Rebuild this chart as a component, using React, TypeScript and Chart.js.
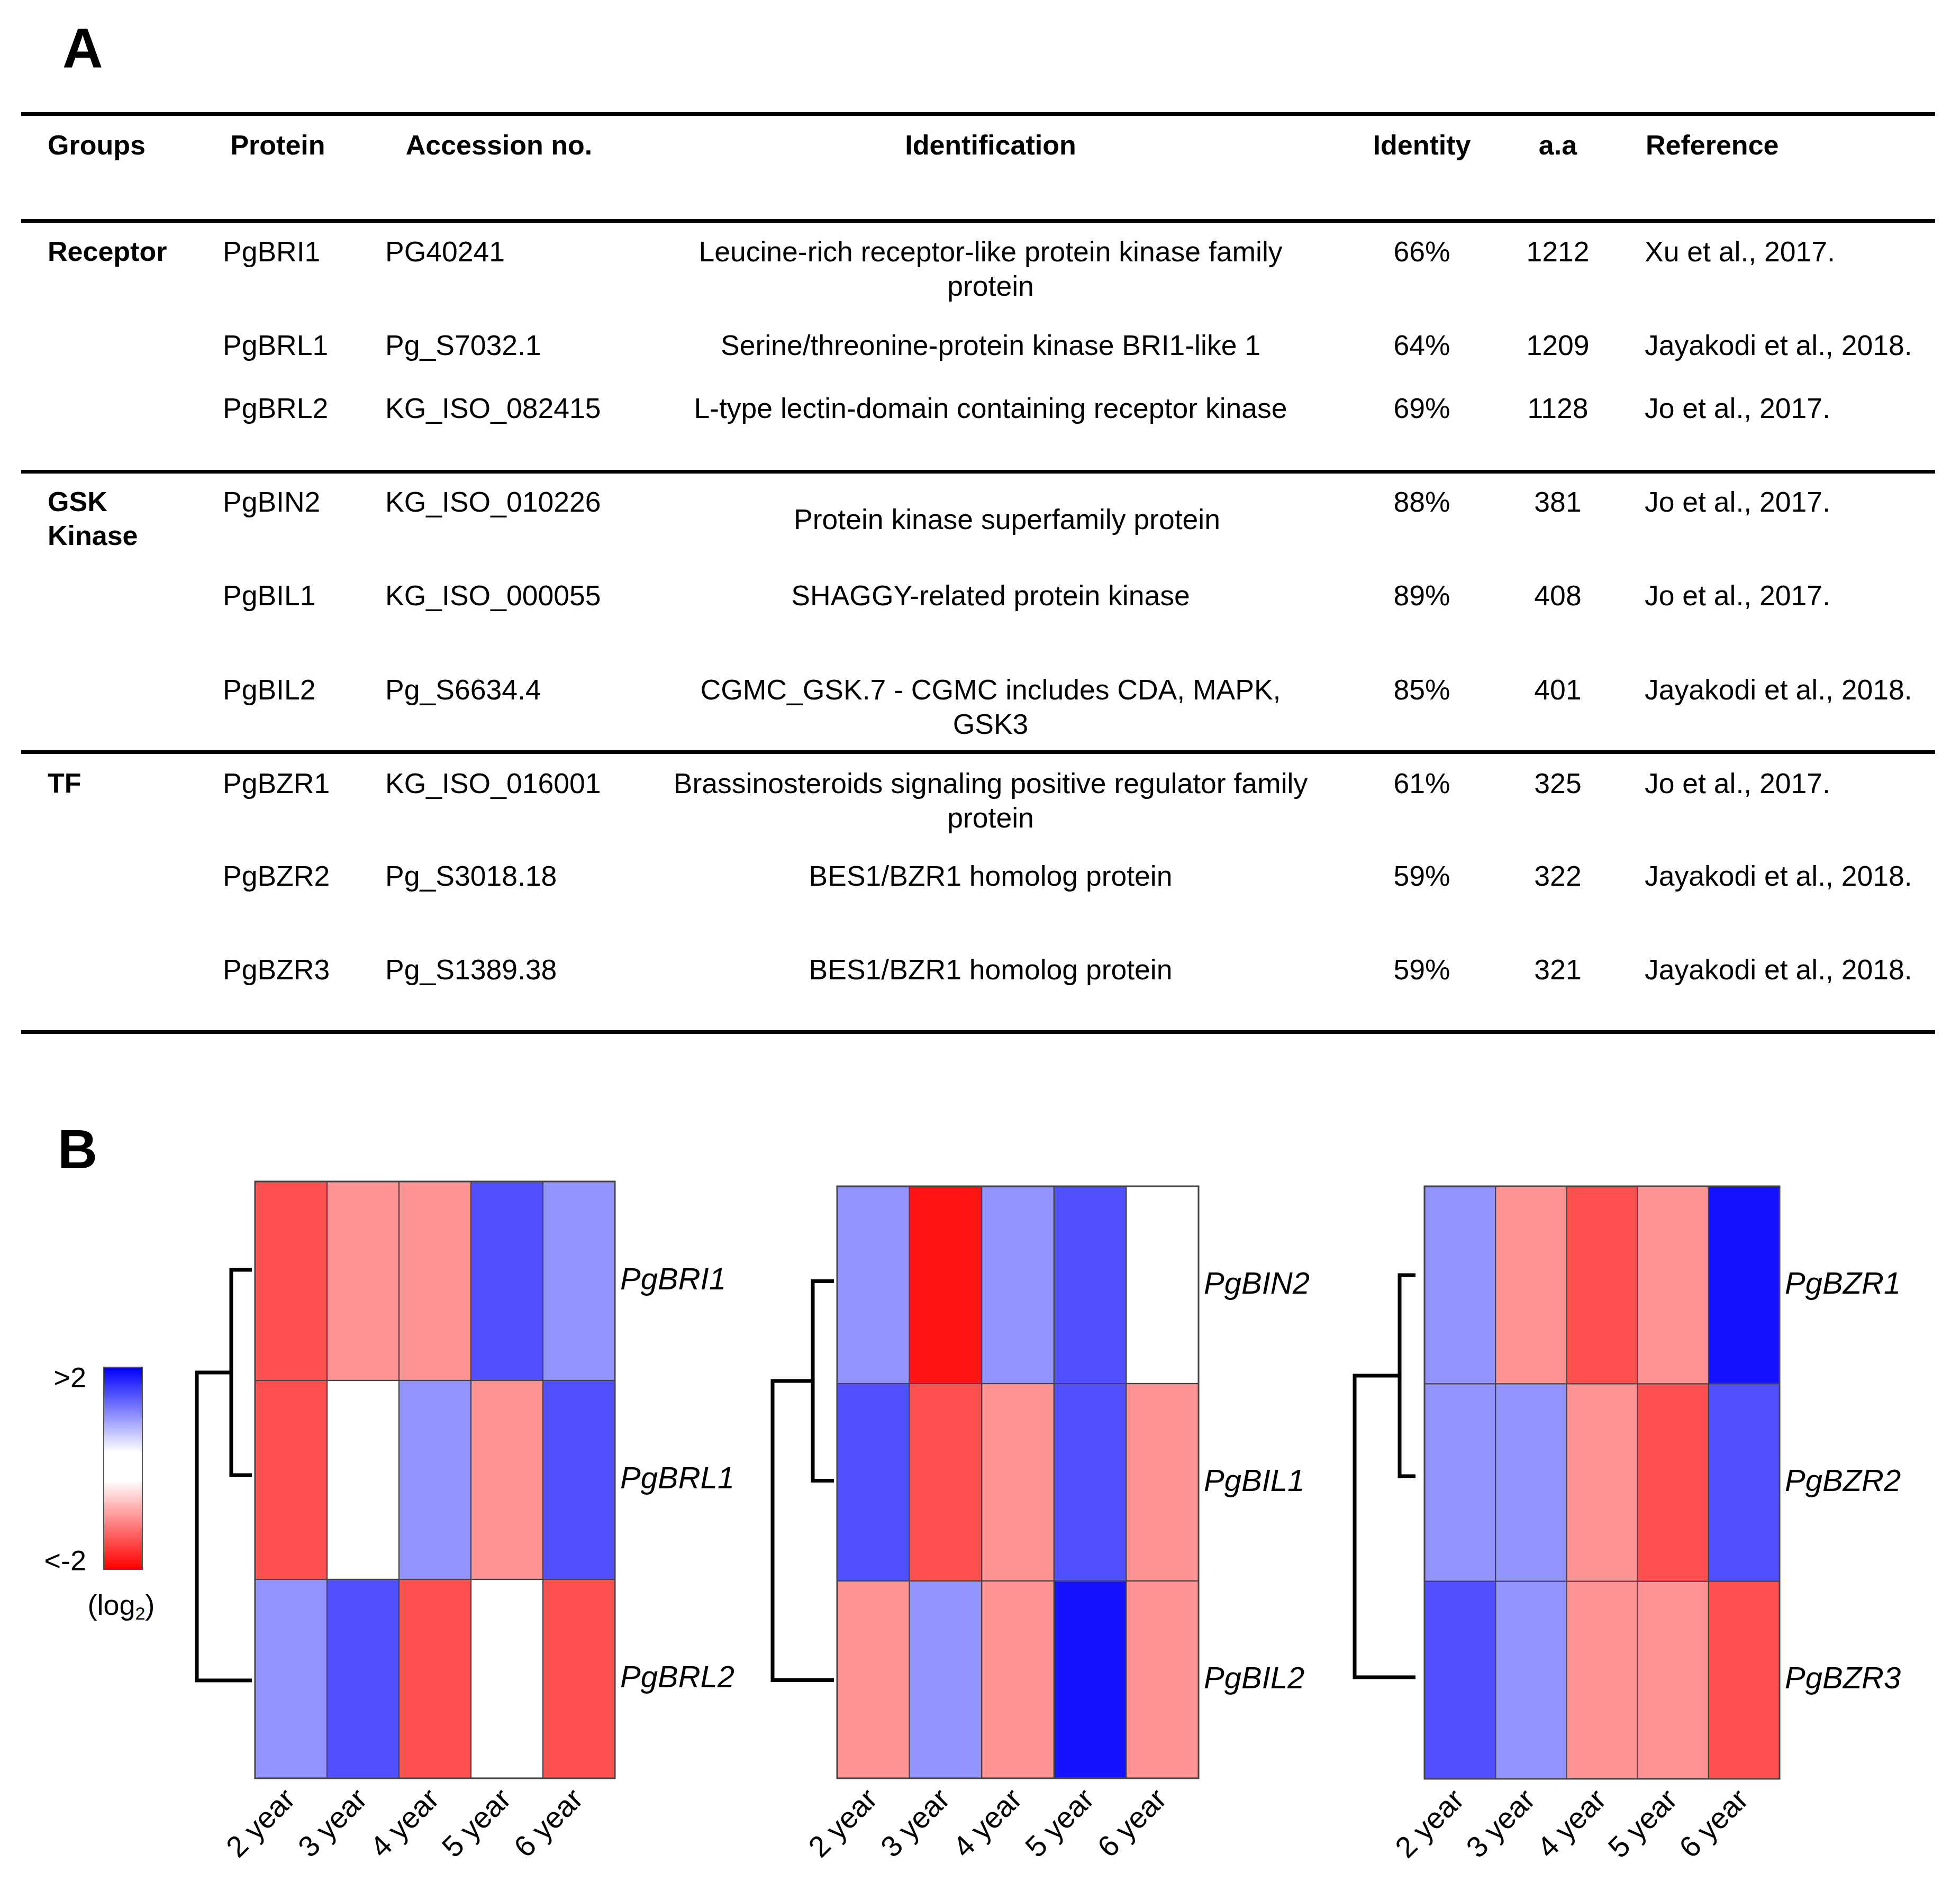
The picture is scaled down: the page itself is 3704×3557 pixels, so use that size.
import React, { useEffect, useRef } from 'react';
import { Chart, registerables } from 'chart.js';

Chart.register(...registerables);

const FONT = '"Liberation Sans", Arial, Helvetica, sans-serif';

// ---------------- Table (panel A) data ----------------
const tableHeaders = ['Groups', 'Protein', 'Accession no.', 'Identification', 'Identity', 'a.a', 'Reference'];
const groupNames = ['Receptor', 'GSK\nKinase', 'TF'];
const groupFirstRow = [0, 3, 6];
const proteins = ['PgBRI1', 'PgBRL1', 'PgBRL2', 'PgBIN2', 'PgBIL1', 'PgBIL2', 'PgBZR1', 'PgBZR2', 'PgBZR3'];
const accessions = ['PG40241', 'Pg_S7032.1', 'KG_ISO_082415', 'KG_ISO_010226', 'KG_ISO_000055', 'Pg_S6634.4', 'KG_ISO_016001', 'Pg_S3018.18', 'Pg_S1389.38'];
const identifications = [
  'Leucine-rich receptor-like protein kinase family\nprotein',
  'Serine/threonine-protein kinase BRI1-like 1',
  'L-type lectin-domain containing receptor kinase',
  'Protein kinase superfamily protein',
  'SHAGGY-related protein kinase',
  'CGMC_GSK.7 - CGMC includes CDA, MAPK,\nGSK3',
  'Brassinosteroids signaling positive regulator family\nprotein',
  'BES1/BZR1 homolog protein',
  'BES1/BZR1 homolog protein',
];
const identities = ['66%', '64%', '69%', '88%', '89%', '85%', '61%', '59%', '59%'];
const aminoAcids = [1212, 1209, 1128, 381, 408, 401, 325, 322, 321];
const references = [
  'Xu et al., 2017.', 'Jayakodi et al., 2018.', 'Jo et al., 2017.',
  'Jo et al., 2017.', 'Jo et al., 2017.', 'Jayakodi et al., 2018.',
  'Jo et al., 2017.', 'Jayakodi et al., 2018.', 'Jayakodi et al., 2018.',
];

// ---------------- Heatmap (panel B) data ----------------
const years = ['2 year', '3 year', '4 year', '5 year', '6 year'];

const receptorGenes = ['PgBRI1', 'PgBRL1', 'PgBRL2'];
const receptorValues = [
  [-1.37, -0.84, -0.84, 1.37, 0.84],
  [-1.37, 0, 0.84, -0.84, 1.37],
  [0.84, 1.37, -1.37, 0, -1.37],
];
const receptorLinkage = [0.39, 1.04];

const gskGenes = ['PgBIN2', 'PgBIL1', 'PgBIL2'];
const gskValues = [
  [0.84, -1.85, 0.84, 1.37, 0],
  [1.37, -1.37, -0.84, 1.37, -0.84],
  [-0.84, 0.84, -0.84, 1.85, -0.84],
];
const gskLinkage = [0.4, 1.16];

const tfGenes = ['PgBZR1', 'PgBZR2', 'PgBZR3'];
const tfValues = [
  [0.84, -0.84, -1.37, -0.84, 1.85],
  [0.84, 0.84, -0.84, -1.37, 1.37],
  [1.37, 0.84, -0.84, -0.84, -1.37],
];
const tfLinkage = [0.3, 1.15];

const colorScaleMax = 2;
const colorScaleLabels = ['>2', '<-2'];

// ---------------- Layout (positions / sizes) ----------------
const TABLE_FONT = 53.5;
const HEAD_FONT = 52;
const LINE_H = 65;
const RULE_LEFT = 40;
const RULE_RIGHT = 3657;
const RULE_Y = [215, 417, 891, 1421, 1950];
const HEADER_Y = 274;
const HEADER_X = [90, 525, 943, 1872, 2687, 2944, 3110];
const HEADER_ALIGN: ('left' | 'center')[] = ['left', 'center', 'center', 'center', 'center', 'center', 'left'];
const ROW_Y = [475, 652, 771, 948, 1125, 1303, 1480, 1655, 1832];
const COL_X = { group: 90, protein: 421, accession: 728, ident: 1872, identity: 2687, aa: 2944, ref: 3108 };
const IDENT_SHIFT: Record<number, { dx: number; dy: number }> = { 3: { dx: 31, dy: 33 } };

const DENDRO_MAX = 1.3;
const DENDRO_W = 130;
const PANELS = [
  { genes: receptorGenes, values: receptorValues, linkage: receptorLinkage, left: 482, top: 2233, width: 680, height: 1128, dRight: 476, leafTop: 2400, leafStep: 388 },
  { genes: gskGenes, values: gskValues, linkage: gskLinkage, left: 1582, top: 2242, width: 683, height: 1119, dRight: 1576, leafTop: 2421, leafStep: 377 },
  { genes: tfGenes, values: tfValues, linkage: tfLinkage, left: 2692, top: 2242, width: 671, height: 1120, dRight: 2675, leafTop: 2410, leafStep: 380 },
];

function valueColor(v: number): string {
  const t = Math.min(Math.abs(v) / colorScaleMax, 1);
  const c = Math.round(255 * (1 - t));
  return v >= 0 ? `rgb(${c},${c},255)` : `rgb(255,${c},${c})`;
}

const outlinePlugin = {
  id: 'outline',
  afterDatasetsDraw(chart: any) {
    const { ctx, chartArea } = chart;
    ctx.save();
    ctx.strokeStyle = '#444';
    ctx.lineWidth = 3;
    ctx.strokeRect(chartArea.left, chartArea.top, chartArea.right - chartArea.left, chartArea.bottom - chartArea.top);
    ctx.restore();
  },
};

function Heatmap(props: { genes: string[]; values: number[][]; left: number; top: number; width: number; height: number }) {
  const { genes, values, left, top, width, height } = props;
  const ref = useRef<HTMLCanvasElement>(null);
  const PADL = 170, PADT = 70, AXB = 250, AXR = 340;
  const cw = PADL + width + AXR;
  const ch = PADT + height + AXB;
  useEffect(() => {
    const datasets = genes
      .map((g, i) => ({
        label: g,
        data: years.map(() => 1),
        backgroundColor: values[i].map(valueColor),
        borderColor: '#444',
        borderWidth: 1.5,
        borderSkipped: false as any,
        barPercentage: 1,
        categoryPercentage: 1,
      }))
      .reverse();
    const chart = new Chart(ref.current as HTMLCanvasElement, {
      type: 'bar',
      data: { labels: years, datasets },
      options: {
        animation: false,
        responsive: false,
        devicePixelRatio: 1,
        layout: { padding: { left: PADL, top: PADT, right: 0, bottom: 0 } },
        plugins: { legend: { display: false }, tooltip: { enabled: false } },
        scales: {
          x: {
            stacked: true,
            grid: { display: false, drawTicks: false },
            border: { display: false },
            ticks: { minRotation: 45, maxRotation: 45, autoSkip: false, color: '#000', font: { family: FONT, size: 56 }, padding: 8 },
            afterFit: (s: any) => { s.height = AXB; },
          },
          y: { stacked: true, display: false, min: 0, max: genes.length },
          gene: {
            type: 'category',
            labels: genes,
            position: 'right',
            offset: true,
            grid: { display: false, drawTicks: false },
            border: { display: false },
            ticks: { color: '#000', font: { family: FONT, size: 58, style: 'italic' }, padding: 10 },
            afterFit: (s: any) => { s.width = AXR; },
          },
        } as any,
      },
      plugins: [outlinePlugin],
    });
    return () => chart.destroy();
  }, []);
  return (
    <canvas
      ref={ref}
      width={cw}
      height={ch}
      style={{ position: 'absolute', left: left - PADL, top: top - PADT, width: cw, height: ch }}
    />
  );
}

function Dendrogram(props: { linkage: number[]; right: number; leafTop: number; leafStep: number }) {
  const { linkage, right, leafTop, leafStep } = props;
  const ref = useRef<HTMLCanvasElement>(null);
  const PAD = 8;
  const cw = DENDRO_W + 2 * PAD;
  const ch = leafStep * 3 + 2 * PAD;
  useEffect(() => {
    const [h1, h2] = linkage;
    const leaf = [0.5, 1.5, 2.5];
    const mid = (leaf[0] + leaf[1]) / 2;
    const inner = [
      { x: 0, y: leaf[0] }, { x: h1, y: leaf[0] }, { x: h1, y: leaf[1] }, { x: 0, y: leaf[1] },
    ];
    const outer = [
      { x: h1, y: mid }, { x: h2, y: mid }, { x: h2, y: leaf[2] }, { x: 0, y: leaf[2] },
    ];
    const mk = (data: any[]) => ({
      data,
      showLine: true,
      pointRadius: 0,
      borderColor: '#000',
      borderWidth: 7,
      borderJoinStyle: 'miter' as const,
      borderCapStyle: 'butt' as const,
      tension: 0,
      clip: false as any,
    });
    const chart = new Chart(ref.current as HTMLCanvasElement, {
      type: 'scatter',
      data: { datasets: [mk(inner), mk(outer)] },
      options: {
        animation: false,
        responsive: false,
        devicePixelRatio: 1,
        layout: { padding: PAD },
        plugins: { legend: { display: false }, tooltip: { enabled: false } },
        scales: {
          x: { type: 'linear', min: 0, max: DENDRO_MAX, reverse: true, display: false },
          y: { type: 'linear', min: 0, max: 3, reverse: true, display: false },
        },
      },
    });
    return () => chart.destroy();
  }, []);
  return (
    <canvas
      ref={ref}
      width={cw}
      height={ch}
      style={{ position: 'absolute', left: right - DENDRO_W - PAD, top: leafTop - leafStep / 2 - PAD, width: cw, height: ch }}
    />
  );
}

function T(props: { x: number; y: number; align?: 'left' | 'center' | 'right'; bold?: boolean; size?: number; lh?: number; children: React.ReactNode }) {
  const { x, y, align = 'left', bold = false, size = TABLE_FONT, lh = LINE_H, children } = props;
  const style: React.CSSProperties = {
    position: 'absolute',
    top: y - lh / 2,
    fontSize: size,
    lineHeight: `${lh}px`,
    fontWeight: bold ? 'bold' : 'normal',
    whiteSpace: 'pre',
    textAlign: align,
    fontFamily: FONT,
    color: '#000',
  };
  if (align === 'left') style.left = x;
  else if (align === 'center') { style.left = x; style.transform = 'translateX(-50%)'; }
  else { style.right = 3704 - x; }
  return <div style={style}>{children}</div>;
}

export default function App() {
  return (
    <div style={{ position: 'absolute', left: 0, top: 0, width: 3704, height: 3557, background: '#fff', overflow: 'hidden', fontFamily: FONT }}>
      {/* Panel letters */}
      <T x={118} y={91} bold size={106} lh={110}>A</T>
      <T x={109} y={2172} bold size={104} lh={110}>B</T>

      {/* Table rules */}
      {RULE_Y.map((y, i) => (
        <div key={i} style={{ position: 'absolute', left: RULE_LEFT, width: RULE_RIGHT - RULE_LEFT, top: y - 3.5, height: 7, background: '#000' }} />
      ))}

      {/* Header */}
      {tableHeaders.map((h, i) => (
        <T key={h} x={HEADER_X[i]} y={HEADER_Y} align={HEADER_ALIGN[i]} bold size={HEAD_FONT}>{h}</T>
      ))}

      {/* Groups */}
      {groupNames.map((g, i) => (
        <T key={g} x={COL_X.group} y={ROW_Y[groupFirstRow[i]]} bold size={HEAD_FONT} lh={64}>{g}</T>
      ))}

      {/* Rows */}
      {proteins.map((p, i) => {
        const sh = IDENT_SHIFT[i] || { dx: 0, dy: 0 };
        return (
          <React.Fragment key={p}>
            <T x={COL_X.protein} y={ROW_Y[i]}>{p}</T>
            <T x={COL_X.accession} y={ROW_Y[i]}>{accessions[i]}</T>
            <T x={COL_X.ident + sh.dx} y={ROW_Y[i] + sh.dy} align="center">{identifications[i]}</T>
            <T x={COL_X.identity} y={ROW_Y[i]} align="center">{identities[i]}</T>
            <T x={COL_X.aa} y={ROW_Y[i]} align="center">{String(aminoAcids[i])}</T>
            <T x={COL_X.ref} y={ROW_Y[i]}>{references[i]}</T>
          </React.Fragment>
        );
      })}

      {/* Colour scale */}
      <div
        style={{
          position: 'absolute', left: 195, top: 2583, width: 75, height: 384, boxSizing: 'border-box',
          border: '2px solid #555',
          background: `linear-gradient(to bottom, ${valueColor(colorScaleMax)} 0%, #ffffff 42%, #ffffff 56%, ${valueColor(-colorScaleMax)} 100%)`,
        }}
      />
      <T x={163} y={2603} align="right" size={54} lh={60}>{colorScaleLabels[0]}</T>
      <T x={163} y={2949} align="right" size={54} lh={60}>{colorScaleLabels[1]}</T>
      <T x={229} y={3033} align="center" size={54} lh={70}>
        <span>(log<sub style={{ fontSize: 34, verticalAlign: '-0.25em', lineHeight: 0 }}>2</sub>)</span>
      </T>

      {/* Dendrograms + heatmaps */}
      {PANELS.map((p, i) => (
        <React.Fragment key={i}>
          <Dendrogram linkage={p.linkage} right={p.dRight} leafTop={p.leafTop} leafStep={p.leafStep} />
          <Heatmap genes={p.genes} values={p.values} left={p.left} top={p.top} width={p.width} height={p.height} />
        </React.Fragment>
      ))}
    </div>
  );
}
